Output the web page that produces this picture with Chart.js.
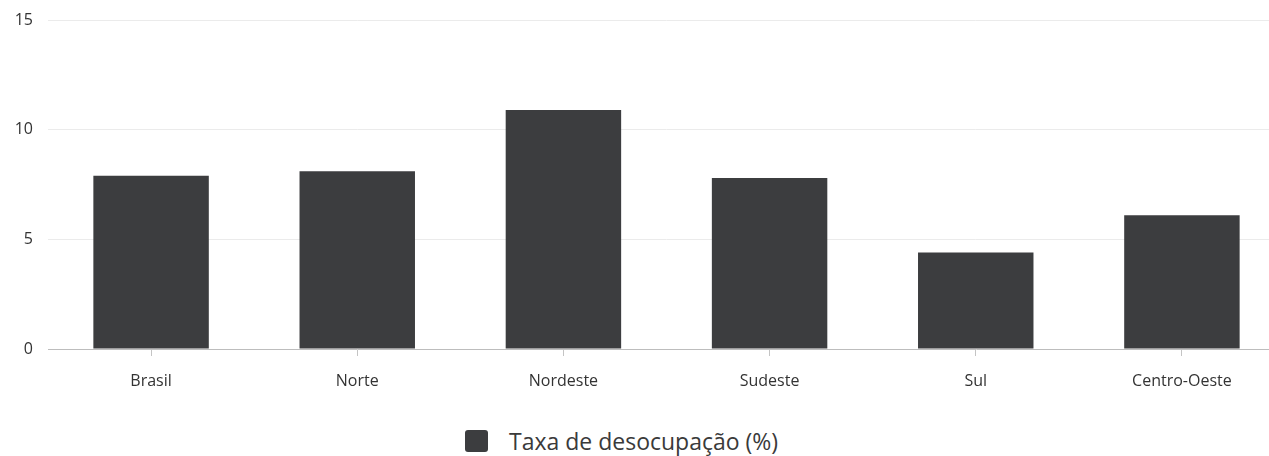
<!DOCTYPE html>
<html>
<head>
<meta charset="utf-8">
<script src="https://cdn.jsdelivr.net/npm/chart.js@4.4.0/dist/chart.umd.min.js"></script>
<style>
  html, body { margin: 0; padding: 0; background: #fff; overflow: hidden; }
  #wrap { position: relative; width: 1269px; height: 456px; overflow: hidden; }
  #myChart { position: absolute; left: 0; top: 0; }
  #legend { position: absolute; left: 465px; top: 425px; display: flex; align-items: center;
            font-family: "Open Sans", sans-serif; font-size: 23px; color: #3a3a3a; }
  #legend .box { width: 23px; height: 22px; border-radius: 3px; margin-right: 21px; }
</style>
</head>
<body>
<div id="wrap">
  <canvas id="myChart" width="1290" height="400" style="width:1290px;height:400px"></canvas>
  <div id="legend"></div>
</div>
<script>
const labels = ["Brasil", "Norte", "Nordeste", "Sudeste", "Sul", "Centro-Oeste"];
const taxa = [7.9, 8.1, 10.9, 7.8, 4.4, 6.1];
const yTicks = [0, 5, 10, 15];

const barColor = '#3c3d3f';

const data = {
    labels,
    datasets: [
        {
            label: "Taxa de desocupação (%)",
            data: taxa,
            backgroundColor: barColor,
            borderWidth: 0,
            categoryPercentage: 1,
            barPercentage: 0.56
        }
    ]
};

const myChart = new Chart(document.getElementById("myChart"), {
    type: "bar",
    data,
    options: {
        responsive: false,
        animation: false,
        layout: { padding: { top: 20, right: 5, left: 0, bottom: 0 } },
        plugins: {
            legend: { display: false },
            tooltip: { enabled: false }
        },
        scales: {
            x: {
                offset: true,
                grid: { offset: false, drawOnChartArea: false, drawTicks: true, tickLength: 7, color: '#c4c4c4' },
                border: { display: true, color: '#bdbdbd', width: 1 },
                ticks: { padding: 16, color: '#333', font: { family: "Open Sans", size: 16 } },
                afterFit: (scale) => { scale.height = 51; }
            },
            y: {
                min: 0,
                max: 15,
                afterBuildTicks: (scale) => { scale.ticks = yTicks.map(v => ({ value: v })); },
                grid: {
                    drawTicks: true, tickLength: 10, tickColor: 'rgba(0,0,0,0)',
                    color: (ctx) => ctx.tick && ctx.tick.value === 0 ? 'rgba(0,0,0,0)' : '#ebebeb'
                },
                border: { display: false },
                ticks: { padding: 5, color: '#333', font: { family: "Open Sans", size: 16 } },
                afterFit: (scale) => { scale.width = 48; }
            }
        }
    }
});

// legend built from the dataset
const legend = document.getElementById("legend");
myChart.data.datasets.forEach(ds => {
    const box = document.createElement("span");
    box.className = "box";
    box.style.background = ds.backgroundColor;
    const txt = document.createElement("span");
    txt.textContent = ds.label;
    legend.appendChild(box);
    legend.appendChild(txt);
});
</script>
</body>
</html>
